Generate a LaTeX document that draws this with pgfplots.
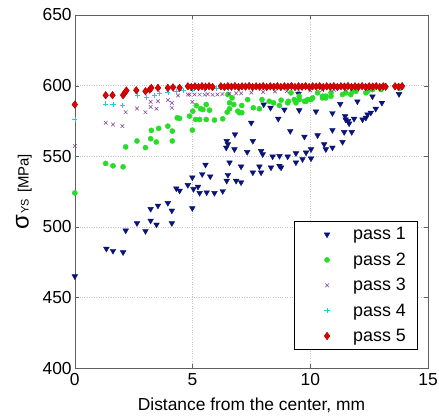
\documentclass[border=0pt]{standalone}
\usepackage{fontspec}
\setmainfont{Liberation Sans}
\usepackage{pgfplots}
\pgfplotsset{compat=1.18}
\definecolor{p1}{RGB}{10,20,120}
\definecolor{p2}{RGB}{40,220,40}
\definecolor{p3}{RGB}{120,60,150}
\definecolor{p4}{RGB}{40,200,215}
\definecolor{p5}{RGB}{225,0,0}
\definecolor{p5e}{RGB}{160,0,0}
\pgfplotsset{myleg/.style={legend image code/.code={\path (0bp,0bp) (48bp,0bp);\draw[mark repeat=2,mark phase=2,##1] plot coordinates {(0bp,0bp)(24bp,0bp)(48bp,0bp)};}}}
\begin{document}
\begin{tikzpicture}
\begin{axis}[
  scale only axis, width=354bp, height=354bp,
  xmin=0, xmax=15, ymin=400, ymax=650,
  xtick={0,5,10,15}, ytick={400,450,500,550,600,650},
  /pgf/number format/assume math mode=true,
  ticklabel style={font=\fontsize{17.5}{20}\selectfont, inner sep=0pt},
  xticklabel style={yshift=-5bp},
  yticklabel style={xshift=-3bp},
  xlabel={Distance from the center, mm},
  ylabel={{\fontsize{24}{24}\selectfont σ}\hspace{1bp}{\fontsize{11}{12}\selectfont YS}\hspace{6bp}{\fontsize{15}{16}\selectfont[MPa]}},
  xlabel style={font=\fontsize{17.5}{20}\selectfont, at={(rel axis cs:0.5,0)}, anchor=center, yshift=-37bp},
  ylabel style={at={(rel axis cs:0,0.5)}, anchor=center, yshift=51bp},
  grid=major, major grid style={dotted, gray!45},
  axis line style={gray!75!black},
  tick style={gray!75!black},
  tick align=inside, major tick length=4bp,
  legend style={at={(0.969,0.054)}, anchor=south east, draw=black, font=\fontsize{18}{20}\selectfont, row sep=7.5bp, inner xsep=9bp, inner ysep=4bp, nodes={inner sep=2bp}},
  legend cell align=left,
  clip=false,
]
\coordinate (sw) at (rel axis cs:0,0);
\coordinate (ne) at (rel axis cs:1,1);
\addplot[only marks, myleg, mark=triangle*, mark size=3.3pt, mark options={rotate=180, fill=p1, draw=p1}] coordinates {
(0,465)(1.34,484.5)(1.62,483)(2.05,482)(2.16,497.4)(2.64,502.6)(3.0,497)(3.22,512.7)(3.22,504.4)(3.47,501.6)(3.53,515)(3.95,516.9)(4.12,511.5)(4.12,502.6)(4.31,527.2)(4.45,525.6)(4.8,529.6)(4.99,513.2)(4.99,535)(5.04,526.8)(5.23,528.4)(5.3,524)(5.41,537.3)(5.55,544)(5.6,524.4)(5.75,535.7)(5.93,524)(6.28,525.3)(6.45,532.6)(6.5,536.8)(6.57,545.6)(6.43,556.1)(6.5,558.5)(6.45,560.8)(6.78,554.9)(6.8,565.5)(6.85,532.6)(7.06,531.5)(7.06,542.7)(7.32,553)(7.49,573.7)(7.56,560.8)(7.56,538.5)(7.84,542.7)(7.91,538.5)(7.91,553.7)(7.98,551.4)(8.02,586.6)(8.31,584.3)(8.33,542)(8.4,549.8)(8.64,576.5)(8.69,543.2)(8.76,542)(8.69,550.2)(8.9,583)(9.04,549.8)(9.15,567.8)(9.39,552.1)(9.39,545.6)(9.5,594.2)(9.53,582.5)(9.67,547.9)(9.75,563.8)(9.82,552.6)(10.03,554.9)(10.03,548.4)(10.24,581.7)(10.31,564.8)(10.59,558.5)(10.66,554.9)(10.94,556.1)(10.94,568.5)(10.94,580.5)(11.27,587)(11.37,560.1)(11.44,567.1)(11.5,576)(11.48,578.4)(11.6,574.9)(11.65,573.2)(11.76,567.1)(11.86,576.5)(12,588.8)(12.22,576)(12.36,577.2)(12.43,579.6)(12.57,580.8)(12.64,592.3)(12.78,583.6)(13.04,587.8)(13.77,594)
};
\addlegendentry{pass 1}
\addplot[only marks, myleg, mark=*, mark size=2.6pt, mark options={fill=p2, draw=p2}] coordinates {
(0,524)(1.31,544.9)(1.62,543.2)(2.05,542.5)(2.16,556.6)(2.64,560.8)(3.0,556.1)(3.22,562.4)(3.25,568.3)(3.46,560.1)(3.56,569.7)(3.95,571.3)(4.14,567.8)(4.14,560.8)(4.35,577.2)(4.45,576.8)(4.87,578.4)(4.99,568.5)(5.01,581.9)(5.13,576)(5.16,585.9)(5.3,576)(5.34,583.6)(5.44,583.1)(5.58,586.6)(5.58,576)(5.72,582.6)(5.93,575.6)(6.28,576.5)(6.47,581.2)(6.57,583.6)(6.57,587.8)(6.68,591.3)(6.5,593.7)(6.75,586.6)(6.92,581.9)(6.99,580.8)(7.09,580.8)(7.09,585.9)(7.34,590.1)(7.58,584.3)(7.84,583.6)(7.95,590.1)(8.26,588.9)(8.44,587.8)(8.69,585.9)(8.76,589.7)(9.04,587.8)(9.07,588.9)(9.18,594.9)(9.32,590.1)(9.39,587.8)(9.53,590.1)(9.53,592.5)(9.75,588.9)(9.82,588.9)(9.89,590.1)(10.03,590.1)(10.1,591.3)(10.31,594.9)(10.52,592.5)(10.52,591.3)(10.66,592.5)(10.66,591.3)(10.88,594.9)(10.88,592.5)(11.37,593.7)(11.51,594.9)(11.72,593.7)(11.79,596)(11.94,596)(12.36,594.9)(12.43,596)(12.64,597.2)(13.0,597.2)(13.8,598)
};
\addlegendentry{pass 2}
\addplot[only marks, myleg, color=p3, mark=x, mark size=2.6pt, mark options={draw=p3, line width=0.5pt}] coordinates {
(0,557.3)(1.31,573.7)(1.62,572.5)(2.02,571.3)(2.16,581.2)(2.64,583.8)(3.0,581.2)(3.22,588.5)(3.22,585)(3.47,583.6)(3.53,588.9)(3.95,589.7)(4.12,587.8)(4.12,584.3)(4.38,593)(4.8,593.7)(4.99,588.5)(4.87,593.7)(5.08,593.7)(5.3,593.7)(5.51,593.5)(5.64,594)(5.85,593.5)(6.06,593.7)(6.27,594)(6.57,594.2)(6.85,594.5)(7.06,594.5)(7.5,595)(8,595.5)(8.5,595.8)(9,596)(9.5,596.3)(10,596.5)(10.5,596.8)(11,597)(11.5,597.2)(12,597.5)(12.5,597.7)(13,598)(13.8,598.2)
};
\addlegendentry{pass 3}
\addplot[only marks, myleg, color=p4, mark=+, mark size=2.6pt, mark options={draw=p4, line width=0.5pt}] coordinates {
(0,576)(1.31,587.1)(1.62,586.6)(2.02,585.9)(2.65,593)(3.03,591.8)(3.39,593)(3.6,594.5)(3.95,595.5)(4.3,596)(4.6,596.5)(4.99,597)(5.5,597.5)(6,598)(6.5,598)(7,598.2)(8,598.5)(9,598.5)(10,598.8)(11,598.8)(12,599)(13,599)(13.8,599)
};
\addlegendentry{pass 4}
\addplot[only marks, myleg, mark=diamond*, mark size=3.8pt, mark options={fill=p5, draw=p5e}] coordinates {
(0,586.6)(1.31,593.2)(1.6,593.2)(2.05,593.2)(2.12,594.9)(2.19,596.5)(2.61,596.7)(3.0,596)(3.18,597.2)(3.25,598.4)(3.53,598.4)(3.95,598.4)(4.17,598.8)(4.45,598.4)(4.8,599.5)(4.95,599)(5.1,599.5)(5.25,599)(5.4,599.6)(5.55,599.2)(5.7,599.6)(5.85,599)(6.2,599.5)(6.35,599)(6.5,599.6)(6.65,599.2)(6.8,599.6)(6.95,599)(7.1,599.5)(7.25,599.3)(7.4,599.7)(7.55,599)(7.7,599.5)(7.85,599.2)(8.0,599.6)(8.15,599)(8.3,599.5)(8.45,599.2)(8.6,599.6)(8.75,599)(8.9,599.5)(9.05,599.3)(9.2,599.7)(9.35,599)(9.5,599.5)(9.65,599.2)(9.8,599.6)(9.95,599)(10.1,599.5)(10.25,599.3)(10.4,599.6)(10.55,599)(10.7,599.5)(10.85,599.2)(11.0,599.6)(11.15,599)(11.3,599.5)(11.45,599.3)(11.6,599.7)(11.75,599)(11.9,599.5)(12.05,599.2)(12.2,599.6)(12.35,599)(12.5,599.5)(12.65,599.3)(12.8,599.6)(12.95,599)(13.1,599.5)(13.2,599.2)(13.6,599.5)(13.75,599.2)(13.9,599.6)
};
\addlegendentry{pass 5}
\end{axis}
\pgfresetboundingbox
\path ([xshift=-75bp,yshift=-48bp]sw) rectangle ([xshift=11bp,yshift=15bp]ne);
\end{tikzpicture}
\end{document}
